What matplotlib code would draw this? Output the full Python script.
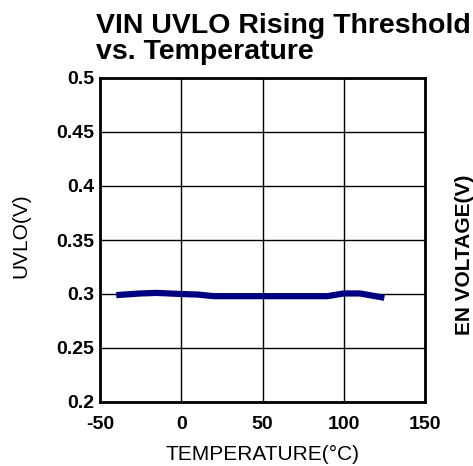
import matplotlib
matplotlib.use("Agg")
import matplotlib.pyplot as plt

temperature = [-40, -25, -15, 0, 10, 20, 50, 90, 100, 110, 125]
uvlo = [0.299, 0.3005, 0.301, 0.300, 0.2995, 0.298, 0.298, 0.298, 0.3005, 0.3005, 0.2965]
x_ticks = [-50, 0, 50, 100, 150]
y_ticks = [0.2, 0.25, 0.3, 0.35, 0.4, 0.45, 0.5]
y_tick_labels = ["0.2", "0.25", "0.3", "0.35", "0.4", "0.45", "0.5"]

plt.rcParams['font.family'] = ['Liberation Sans', 'DejaVu Sans']
plt.rcParams['axes.unicode_minus'] = False

fig = plt.figure(figsize=(4.73, 4.66), dpi=100)
ax = fig.add_axes([100/473, 64/466, 325/473, 324/466])
ax.plot(temperature, uvlo, color='#000080', linewidth=4.5, solid_capstyle='butt')
ax.set_xlim(-50, 150)
ax.set_ylim(0.2, 0.5)
ax.set_xticks(x_ticks)
ax.set_yticks(y_ticks)
ax.set_yticklabels(y_tick_labels)
ax.grid(True, color='black', linewidth=1)
ax.tick_params(length=0, labelsize=14)
ax.tick_params(axis='x', pad=10)
ax.tick_params(axis='y', pad=4)
for lab in ax.get_xticklabels() + ax.get_yticklabels():
    lab.set_fontweight('bold')
for s in ax.spines.values():
    s.set_linewidth(2)
    s.set_color('black')
ax.set_xlabel('TEMPERATURE(°C)', fontsize=15, labelpad=9)
fig.text(21/473, 1 - 236/466, 'UVLO(V)', rotation=90, fontsize=15,
         ha='center', va='center')
fig.text(464/473, 1 - 255/466, 'EN VOLTAGE(V)', rotation=90, fontsize=15,
         fontweight='bold', ha='center', va='center')
fig.text(96/473, 1 - 13/466, 'VIN UVLO Rising Threshold\nvs. Temperature',
         fontsize=20.5, fontweight='bold', ha='left', va='top', linespacing=1.0)
fig.savefig('out.png', dpi=100)
